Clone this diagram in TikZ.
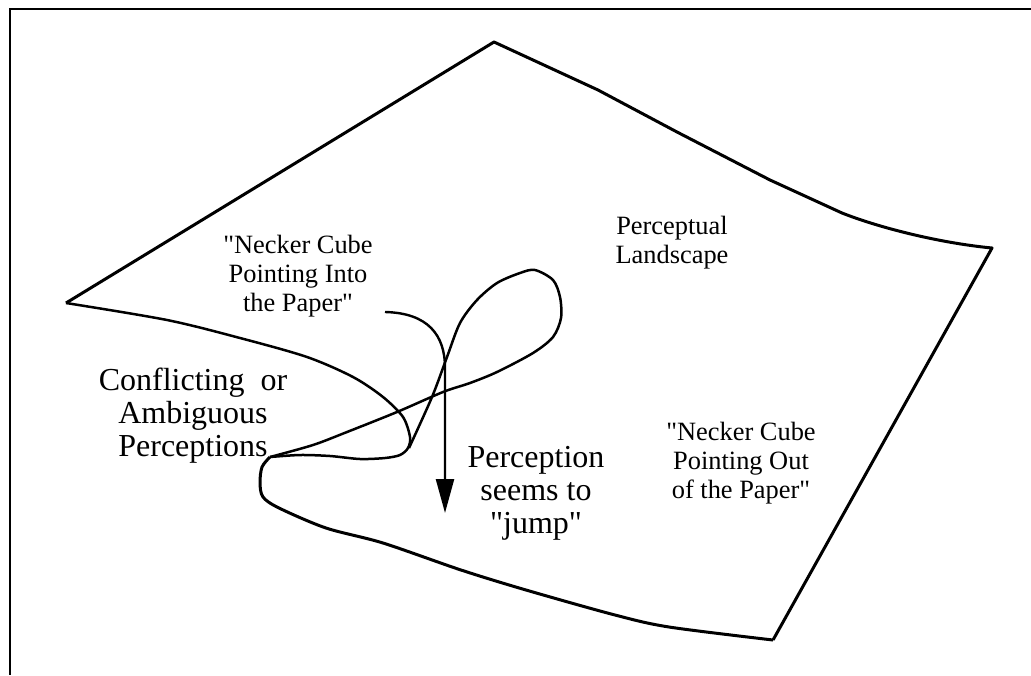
\documentclass[tikz,border=0pt]{standalone}
\usepackage{fontspec}
\setmainfont{Liberation Serif}
\usetikzlibrary{arrows.meta}
\newcommand{\dq}{\textquotedbl}

\begin{document}
\begin{tikzpicture}[x=0.5pt, y=-0.5pt,
  edge/.style={line width=1.5pt, line join=round},
  fold/.style={line width=1.25pt, line join=round},
  smalllabel/.style={align=center, inner sep=0pt, font=\fontsize{13.2}{14.5}\selectfont},
  biglabel/.style={align=center, inner sep=0pt, font=\fontsize{16}{16.5}\selectfont}]
  \useasboundingbox (0,0) rectangle (1031,675);

  % frame
  \draw[line width=1.1pt] (1031,9) -- (10,9) -- (10,675);

  % landscape edges
  \draw[edge] (66,303) -- (494,42) -- (598,90) -- (677,132) -- (770,180) -- (842,213)
    .. controls (880,228) and (940,243) .. (992,248) -- (773,640);
  \draw[edge] plot[smooth, tension=0.5] coordinates {(773,640) (669,627) (615,615) (526,590)
    (461,570) (383,543) (326,528) (279,508) (263,497) (260,483) (262,467) (270,457)};

  % near lip of the fold
  \draw[fold] plot[smooth, tension=0.5] coordinates {(66,303) (167,320) (240,338) (307,357)
    (353,377) (383,397) (403,417) (410,437) (408,448) (400,455) (385,458) (360,459)
    (330,456) (300,455) (270,457)};

  % fold and loop
  \draw[fold] plot[smooth, tension=0.5] coordinates {(270,457) (313,445) (347,432) (397,412)
    (443,392) (470,383) (497,372) (533,353) (553,337) (561,318) (560,297) (553,280)
    (535,270) (520,273) (497,283) (477,300) (460,323) (447,357) (432,397) (409,448)};

  % labels
  \node[smalllabel] (landscape) at (672,243) {Perceptual\\Landscape};
  \node[smalllabel] (intopaper) at (298,276) {\dq Necker Cube\\Pointing Into\\the Paper\dq};
  \node[smalllabel] (outpaper) at (741,463) {\dq Necker Cube\\Pointing Out\\of the Paper\dq};
  \node[biglabel] (conflict) at (193,416) {Conflicting\ \ or\\Ambiguous\\Perceptions};
  \node[biglabel] (jumplabel) at (536,493) {Perception\\seems to\\\dq jump\dq};

  % jump arrow
  \coordinate (jumpfrom) at (385,312);
  \coordinate (jumpto) at (445,513);
  \draw[line width=1.2pt, -{Triangle[length=17pt, width=9pt]}] (jumpfrom)
    .. controls (428,313) and (445,335) .. (445,368) -- (jumpto);
\end{tikzpicture}
\end{document}
